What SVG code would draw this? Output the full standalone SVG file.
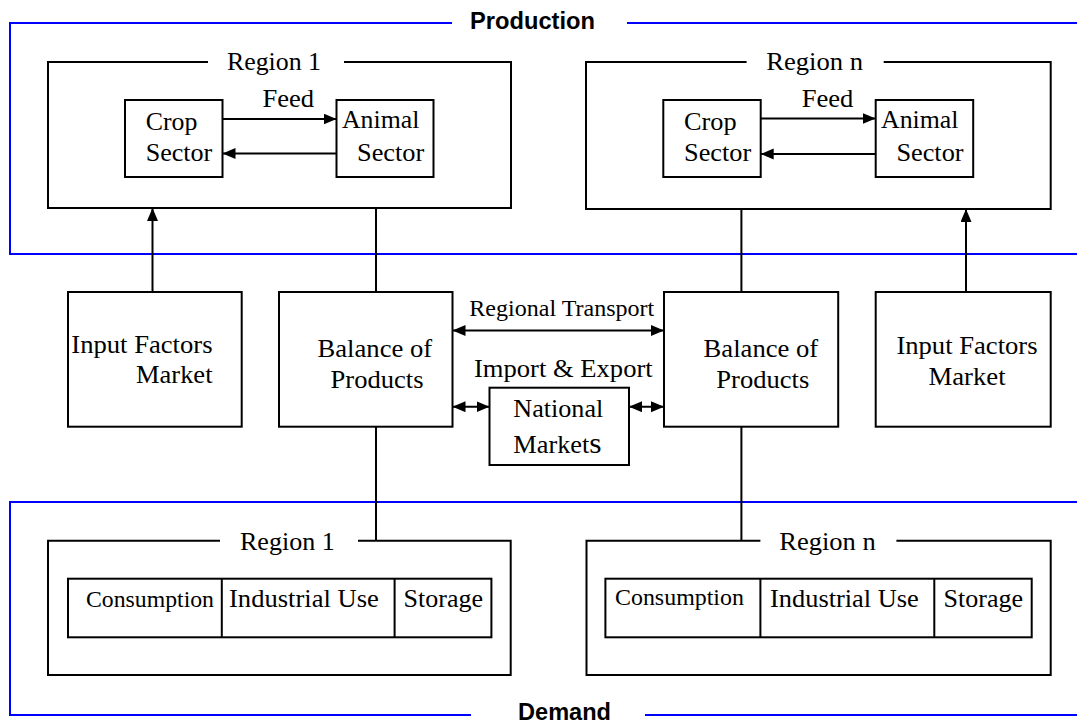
<svg xmlns="http://www.w3.org/2000/svg" width="1077" height="724" viewBox="0 0 1077 724">
<defs>
<marker id="ah" markerUnits="userSpaceOnUse" markerWidth="14" markerHeight="12" refX="13" refY="5.5" orient="auto-start-reverse">
<path d="M0,0 L13,5.5 L0,11 z" fill="#000"/>
</marker>
<style>
.frame{fill:none;stroke:#0000ff;stroke-width:2}
.box{fill:none;stroke:#000;stroke-width:2}
.ln{fill:none;stroke:#000;stroke-width:2}
.t{font-family:"Liberation Serif","Times New Roman",serif;font-size:25px;fill:#000}
.ts{font-family:"Liberation Serif","Times New Roman",serif;font-size:23px;fill:#000}
.h{font-family:"Liberation Sans",Arial,sans-serif;font-size:23px;font-weight:bold;fill:#000}
</style>
</defs>
<rect width="1077" height="724" fill="#fff"/>

<g id="production-frame">
<path class="frame" d="M452,23 H10 V254 H1077 M627,23 H1077"/>
<text class="h" x="470" y="29" textLength="125" lengthAdjust="spacingAndGlyphs">Production</text>
</g>
<g id="demand-frame">
<path class="frame" d="M1077,502 H10 V715 H471 M645,715 H1077"/>
<text class="h" x="518" y="720" textLength="93" lengthAdjust="spacingAndGlyphs">Demand</text>
</g>

<g id="prod-region-1">
<path class="box" d="M208,62 H48 V208 H511 V62 H344"/>
<text class="t" x="227" y="70" textLength="94" lengthAdjust="spacingAndGlyphs">Region 1</text>
</g>
<g id="crop-sector-1">
<rect class="box" x="125" y="100" width="97.5" height="77"/>
<text class="t" x="145.7" y="130" textLength="51.6" lengthAdjust="spacingAndGlyphs">Crop</text>
<text class="t" x="145.7" y="160.7" textLength="66.6" lengthAdjust="spacingAndGlyphs">Sector</text>
</g>
<g id="animal-sector-1">
<rect class="box" x="336.5" y="100" width="97" height="77"/>
<text class="t" x="342" y="128.3" textLength="77.3" lengthAdjust="spacingAndGlyphs">Animal</text>
<text class="t" x="357" y="160.7" textLength="67.3" lengthAdjust="spacingAndGlyphs">Sector</text>
</g>

<g id="prod-region-n">
<path class="box" d="M746.6,62 H586 V209 H1050.7 V62 H883.7"/>
<text class="t" x="766.2" y="70" textLength="96.8" lengthAdjust="spacingAndGlyphs">Region n</text>
</g>
<g id="crop-sector-n">
<rect class="box" x="663.3" y="100" width="97.4" height="77"/>
<text class="t" x="684" y="130" textLength="52.6" lengthAdjust="spacingAndGlyphs">Crop</text>
<text class="t" x="684" y="160.7" textLength="67.2" lengthAdjust="spacingAndGlyphs">Sector</text>
</g>
<g id="animal-sector-n">
<rect class="box" x="875.7" y="100" width="97.5" height="77"/>
<text class="t" x="881" y="128.3" textLength="77.4" lengthAdjust="spacingAndGlyphs">Animal</text>
<text class="t" x="896.4" y="160.7" textLength="67.2" lengthAdjust="spacingAndGlyphs">Sector</text>
</g>

<g id="input-factors-1">
<rect class="box" x="68" y="292" width="173.7" height="134.7"/>
<text class="t" x="71.3" y="353.3" textLength="141.2" lengthAdjust="spacingAndGlyphs">Input Factors</text>
<text class="t" x="136" y="383.3" textLength="76.5" lengthAdjust="spacingAndGlyphs">Market</text>
</g>
<g id="balance-1">
<rect class="box" x="279" y="292" width="173.5" height="134.7"/>
<text class="t" x="317.5" y="356.7" textLength="114.7" lengthAdjust="spacingAndGlyphs">Balance of</text>
<text class="t" x="330.6" y="388.3" textLength="93" lengthAdjust="spacingAndGlyphs">Products</text>
</g>
<g id="national-markets">
<rect class="box" x="489.5" y="387.7" width="139.5" height="77.3"/>
<text class="t" x="513.3" y="416.7" textLength="90" lengthAdjust="spacingAndGlyphs">National</text>
<text class="t" x="513.3" y="453.3" textLength="88.4" lengthAdjust="spacingAndGlyphs">Market<tspan font-size="30">s</tspan></text>
</g>
<g id="balance-n">
<rect class="box" x="664" y="292" width="174.2" height="134.7"/>
<text class="t" x="703.6" y="356.7" textLength="114.6" lengthAdjust="spacingAndGlyphs">Balance of</text>
<text class="t" x="716.3" y="388.3" textLength="93" lengthAdjust="spacingAndGlyphs">Products</text>
</g>
<g id="input-factors-n">
<rect class="box" x="875.7" y="292" width="175" height="134.7"/>
<text class="t" x="896.4" y="354.3" textLength="141.2" lengthAdjust="spacingAndGlyphs">Input Factors</text>
<text class="t" x="928.4" y="385" textLength="77.2" lengthAdjust="spacingAndGlyphs">Market</text>
</g>

<g id="demand-region-1">
<path class="box" d="M220,540.7 H48 V675 H510.7 V540.7 H358"/>
<text class="t" x="240" y="550" textLength="94.7" lengthAdjust="spacingAndGlyphs">Region 1</text>
<rect class="box" x="68" y="578.7" width="423.4" height="58.6"/>
<path class="ln" d="M221.8,578.7 V637.3 M394.6,578.7 V637.3"/>
<text class="ts" x="86" y="607.3" textLength="128" lengthAdjust="spacingAndGlyphs">Consumption</text>
<text class="t" x="229" y="607.3" textLength="149.8" lengthAdjust="spacingAndGlyphs">Industrial Use</text>
<text class="t" x="403.6" y="607" textLength="79.4" lengthAdjust="spacingAndGlyphs">Storage</text>
</g>
<g id="demand-region-n">
<path class="box" d="M760.4,540.7 H586.5 V675 H1050.7 V540.7 H896.4"/>
<text class="t" x="779.3" y="550" textLength="96.4" lengthAdjust="spacingAndGlyphs">Region n</text>
<rect class="box" x="605.4" y="578.7" width="426.3" height="58.6"/>
<path class="ln" d="M760.4,578.7 V637.3 M934.3,578.7 V637.3"/>
<text class="ts" x="615" y="605" textLength="128.9" lengthAdjust="spacingAndGlyphs">Consumption</text>
<text class="t" x="770" y="607.3" textLength="148.8" lengthAdjust="spacingAndGlyphs">Industrial Use</text>
<text class="t" x="943.6" y="607" textLength="79.4" lengthAdjust="spacingAndGlyphs">Storage</text>
</g>

<g id="connectors">
<text class="t" x="262.4" y="107" textLength="51.6" lengthAdjust="spacingAndGlyphs">Feed</text>
<line class="ln" x1="222.5" y1="119" x2="336.5" y2="119" marker-end="url(#ah)"/>
<line class="ln" x1="336.5" y1="153.5" x2="222.5" y2="153.5" marker-end="url(#ah)"/>
<text class="t" x="801.7" y="107" textLength="51.7" lengthAdjust="spacingAndGlyphs">Feed</text>
<line class="ln" x1="760.7" y1="118.5" x2="875.7" y2="118.5" marker-end="url(#ah)"/>
<line class="ln" x1="875.7" y1="154" x2="760.7" y2="154" marker-end="url(#ah)"/>
<line class="ln" x1="152.5" y1="292" x2="152.5" y2="208" marker-end="url(#ah)"/>
<line class="ln" x1="966" y1="292" x2="966" y2="209" marker-end="url(#ah)"/>
<line class="ln" x1="376" y1="208" x2="376" y2="292"/>
<line class="ln" x1="741.4" y1="209" x2="741.4" y2="292"/>
<line class="ln" x1="376" y1="426.7" x2="376" y2="540.7"/>
<line class="ln" x1="741.4" y1="426.7" x2="741.4" y2="540.7"/>
<text class="ts" x="469.3" y="316" textLength="185" lengthAdjust="spacingAndGlyphs">Regional Transport</text>
<line class="ln" x1="452.5" y1="330.5" x2="664" y2="330.5" marker-start="url(#ah)" marker-end="url(#ah)"/>
<text class="t" x="474" y="376.7" textLength="178.7" lengthAdjust="spacingAndGlyphs">Import &amp; Export</text>
<line class="ln" x1="452.5" y1="406.7" x2="489.5" y2="406.7" marker-start="url(#ah)" marker-end="url(#ah)"/>
<line class="ln" x1="629" y1="406.7" x2="664" y2="406.7" marker-start="url(#ah)" marker-end="url(#ah)"/>
</g>
</svg>
